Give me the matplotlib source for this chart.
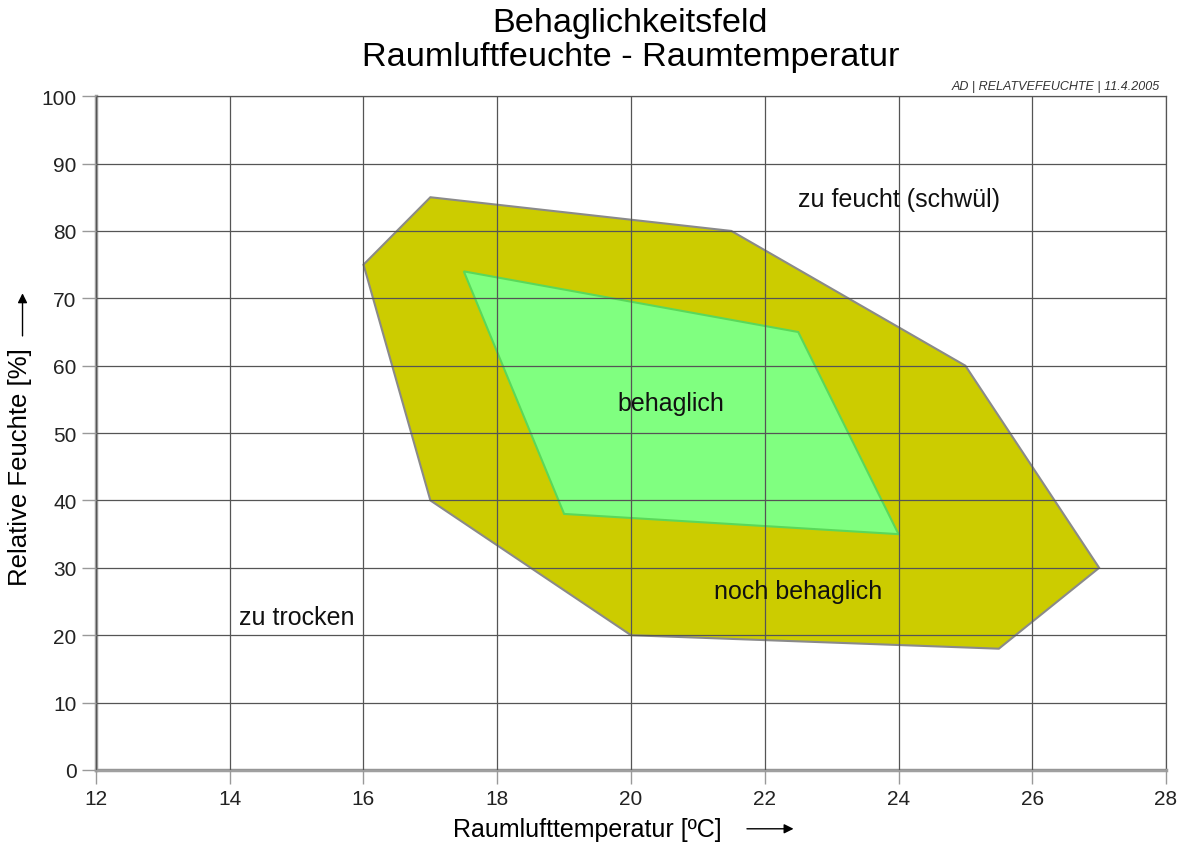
import matplotlib.pyplot as plt
from matplotlib.patches import Polygon

plt.rcParams['font.family'] = ['Liberation Sans', 'DejaVu Sans']

# outer zone "noch behaglich" (temperature, humidity)
outer_t = [16, 17, 21.5, 25, 27, 25.5, 20, 17]
outer_rh = [75, 85, 80, 60, 30, 18, 20, 40]

# inner zone "behaglich"
inner_t = [17.5, 22.5, 24, 19]
inner_rh = [74, 65, 35, 38]

zone_labels = ["zu feucht (schwül)", "behaglich", "noch behaglich", "zu trocken"]
label_t = [24.0, 20.6, 22.5, 15.0]
label_rh = [84.8, 54.4, 26.5, 22.7]

fig = plt.figure(figsize=(11.85, 8.45), dpi=100)
ax = fig.add_axes([0.081, 0.0876, 0.903, 0.7974])

ax.add_patch(Polygon(list(zip(outer_t, outer_rh)), closed=True,
                     facecolor="#cccc00", edgecolor="#8a8a8a", lw=1.5, zorder=1))
ax.add_patch(Polygon(list(zip(inner_t, inner_rh)), closed=True,
                     facecolor="#80ff80", edgecolor="#5ad85a", lw=1.5, zorder=2))

ax.set_xlim(12, 28)
ax.set_ylim(0, 100)
ax.set_xticks(range(12, 29, 2))
ax.set_yticks(range(0, 101, 10))
ax.grid(True, color="#555555", lw=0.9, zorder=3)
ax.set_axisbelow(False)

for s in ["left", "bottom"]:
    ax.spines[s].set_color("#a0a0a0")
    ax.spines[s].set_linewidth(2.5)
for s in ["top", "right"]:
    ax.spines[s].set_color("#555555")
    ax.spines[s].set_linewidth(0.9)

ax.tick_params(direction="out", length=10, width=1, color="#999999",
               labelsize=15, labelcolor="#222222", pad=4)

for txt, t, rh in zip(zone_labels, label_t, label_rh):
    ax.text(t, rh, txt, fontsize=18, ha="center", va="center", color="#111111", zorder=5)

fig.text(0.532, 0.9525, "Behaglichkeitsfeld\nRaumluftfeuchte - Raumtemperatur",
         ha="center", va="center", fontsize=24.7, linespacing=1.12)
fig.text(0.979, 0.897, "AD | RELATVEFEUCHTE | 11.4.2005", ha="right", va="center",
         fontsize=9, style="italic", color="#333333")

# axis labels with arrows
fig.text(0.496, 0.018, "Raumlufttemperatur [ºC]", ha="center", va="center", fontsize=18)
fig.add_artist(plt.Annotation("", xy=(0.672, 0.018), xytext=(0.628, 0.018),
                              xycoords="figure fraction",
                              arrowprops=dict(arrowstyle="-|>", color="black", lw=1,
                                              mutation_scale=14)))
fig.text(0.017, 0.447, "Relative Feuchte [%]", ha="center", va="center",
         fontsize=18.5, rotation=90)
fig.add_artist(plt.Annotation("", xy=(0.019, 0.655), xytext=(0.019, 0.598),
                              xycoords="figure fraction",
                              arrowprops=dict(arrowstyle="-|>", color="black", lw=1,
                                              mutation_scale=14)))

fig.savefig("out.png", dpi=100)
